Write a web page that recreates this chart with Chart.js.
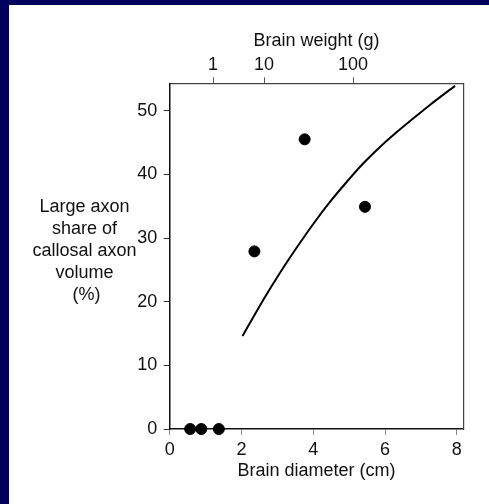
<!DOCTYPE html>
<html>
<head>
<meta charset="utf-8">
<script src="https://cdn.jsdelivr.net/npm/chart.js@4.4.1/dist/chart.umd.min.js"></script>
<style>
  html, body { margin: 0; padding: 0; }
  body { width: 489px; height: 504px; background: #00005e; overflow: hidden; }
  #panel { position: absolute; left: 9px; top: 5px; width: 480px; height: 499px; background: #fff; }
</style>
</head>
<body>
<div id="panel"><canvas id="chart" width="480" height="499"></canvas></div>
<script>
// measured points (brain diameter cm, large axon share %)
const pointX = [0.57, 0.88, 1.37, 2.36, 3.76, 5.44];
const pointY = [0, 0, 0, 27.9, 45.5, 34.9];

// fitted curve
const curveX = [2.03, 2.61, 3.07, 3.54, 4.0, 4.47, 4.93, 5.39, 5.86, 6.32, 6.79, 7.25, 7.95];
const curveY = [14.6, 20.3, 24.5, 28.5, 32.2, 35.7, 38.8, 41.7, 44.3, 46.6, 48.8, 50.9, 53.9];

const xTicks = [0, 2, 4, 6, 8];
const yTicks = [0, 10, 20, 30, 40, 50];
// top axis: brain weight ticks placed at equivalent diameters
const topTickPos = [1.21, 2.63, 5.11];
const topTickLabels = ["1", "10", "100"];

const yTitleLines = ["Large axon", "share of", "callosal axon", "volume", "(%)"];

const FONT = "'Liberation Sans', Arial, sans-serif";
Chart.defaults.font.family = FONT;
Chart.defaults.font.size = 18;
Chart.defaults.color = "#111";

const yTitlePlugin = {
  id: "yTitle",
  afterDraw(chart) {
    const ctx = chart.ctx;
    ctx.save();
    ctx.font = "18px " + FONT;
    ctx.fillStyle = "#111";
    ctx.textAlign = "center";
    ctx.textBaseline = "middle";
    const offsets = [0, 0, 0, 0, 2];
    yTitleLines.forEach((line, i) => {
      ctx.fillText(line, 75.5 + offsets[i], 202 + i * 22);
    });
    ctx.restore();
  },
};

new Chart(document.getElementById("chart"), {
  type: "scatter",
  data: {
    datasets: [
      {
        type: "line",
        data: curveX.map((x, i) => ({ x: x, y: curveY[i] })),
        borderColor: "#000",
        borderWidth: 2,
        pointRadius: 0,
        cubicInterpolationMode: "monotone",
        fill: false,
      },
      {
        data: pointX.map((x, i) => ({ x: x, y: pointY[i] })),
        backgroundColor: "#000",
        borderColor: "#000",
        pointRadius: 5.5,
        clip: false,
      },
    ],
  },
  options: {
    responsive: false,
    animation: false,
    layout: { padding: { left: 0, right: 25.7, top: 0, bottom: 0 } },
    plugins: { legend: { display: false }, tooltip: { enabled: false } },
    scales: {
      x: {
        type: "linear",
        position: "bottom",
        min: 0,
        max: 8.18,
        afterBuildTicks: (s) => { s.ticks = xTicks.map((v) => ({ value: v })); },
        afterFit: (s) => { s.height = 75; },
        grid: { drawOnChartArea: false, tickLength: 6, tickColor: "#888" },
        border: { color: "#111", width: 1.5 },
        ticks: { padding: 4, color: "#111", maxRotation: 0 },
        title: { display: true, text: "Brain diameter (cm)", padding: { top: 0, bottom: 22 }, color: "#111" },
      },
      x2: {
        type: "linear",
        position: "top",
        min: 0,
        max: 8.18,
        afterBuildTicks: (s) => { s.ticks = topTickPos.map((v) => ({ value: v })); },
        afterFit: (s) => { s.height = 78.3; },
        grid: { drawOnChartArea: false, tickLength: 6, tickColor: "#555" },
        border: { color: "#444", width: 1.2 },
        ticks: {
          padding: 1.5,
          color: "#111",
          maxRotation: 0,
          callback: (v, i) => topTickLabels[i],
        },
        title: { display: true, text: "Brain weight (g)", padding: { top: 25, bottom: 0 }, color: "#111" },
      },
      y: {
        type: "linear",
        position: "left",
        min: 0,
        max: 54.3,
        afterBuildTicks: (s) => { s.ticks = yTicks.map((v) => ({ value: v })); },
        afterFit: (s) => { s.width = 160.7; },
        grid: { drawOnChartArea: false, tickLength: 6, tickColor: "#333" },
        border: { color: "#111", width: 1.5 },
        ticks: { padding: 6.5, color: "#111" },
      },
      y2: {
        type: "linear",
        position: "right",
        min: 0,
        max: 54.3,
        afterFit: (s) => { s.width = 0; },
        grid: { display: false },
        border: { color: "#444", width: 1.2 },
        ticks: { display: false },
      },
    },
  },
  plugins: [yTitlePlugin],
});
</script>
</body>
</html>
